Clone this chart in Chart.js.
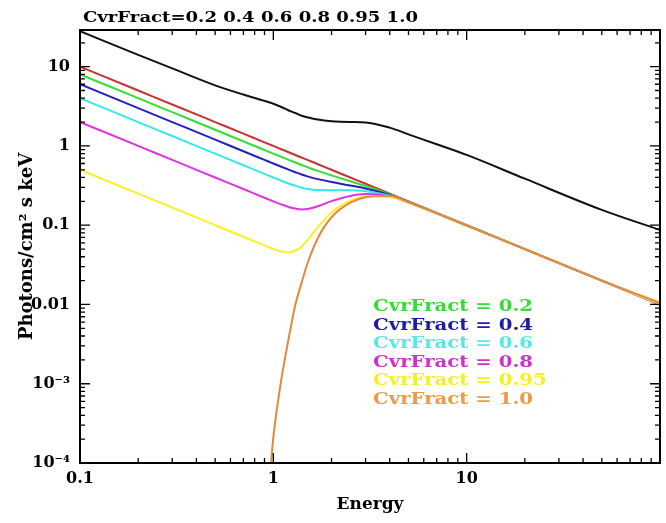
<!DOCTYPE html>
<html>
<head>
<meta charset="utf-8">
<script src="https://cdn.jsdelivr.net/npm/chart.js@4.4.0/dist/chart.umd.min.js"></script>
<style>
  html, body { margin: 0; padding: 0; background: #fff; }
  #wrap { width: 666px; height: 523px; }
</style>
</head>
<body>
<div id="wrap"><canvas id="chart"></canvas></div>
<script>
// energies (keV) shared by every curve
const energy = [0.1, 0.2, 0.3, 0.5, 0.7, 0.9, 0.95, 1.0, 1.1, 1.2, 1.3, 1.4, 1.5, 1.7, 2.0, 2.5, 3.0, 4.0, 5.0, 7.0, 10, 20, 50, 100];

// photons/cm^2 s keV
const fluxBlack  = [28, 14.1, 9.5, 5.8, 4.45, 3.7, 3.55, 3.4, 3.1, 2.8, 2.6, 2.4, 2.3, 2.15, 2.05, 2.0, 1.98, 1.7, 1.4, 1.05, 0.77, 0.386, 0.156, 0.087];
const fluxRed    = [10, 5, 3.33, 2, 1.43, 1.11, 1.053, 1.0, 0.909, 0.833, 0.769, 0.714, 0.667, 0.588, 0.5, 0.4, 0.333, 0.25, 0.2, 0.143, 0.1, 0.05, 0.02, 0.01];
const fluxC02    = [8, 4, 2.667, 1.6, 1.143, 0.889, 0.842, 0.8, 0.728, 0.667, 0.617, 0.575, 0.54, 0.484, 0.425, 0.358, 0.312, 0.245, 0.198, 0.142, 0.0999, 0.05, 0.02, 0.01];
const fluxC04    = [6, 3, 2, 1.2, 0.857, 0.667, 0.632, 0.6, 0.546, 0.502, 0.466, 0.436, 0.413, 0.381, 0.35, 0.317, 0.29, 0.24, 0.197, 0.142, 0.0997, 0.05, 0.02, 0.01];
const fluxC06    = [4, 2, 1.333, 0.8, 0.571, 0.444, 0.421, 0.4, 0.364, 0.336, 0.314, 0.297, 0.286, 0.277, 0.276, 0.275, 0.268, 0.235, 0.195, 0.142, 0.0996, 0.05, 0.02, 0.01];
const fluxC08    = [2, 1, 0.667, 0.4, 0.286, 0.222, 0.2105, 0.2, 0.183, 0.17, 0.162, 0.158, 0.16, 0.173, 0.201, 0.234, 0.247, 0.23, 0.194, 0.141, 0.0994, 0.05, 0.02, 0.01];
const fluxC095   = [0.5, 0.25, 0.167, 0.1, 0.0714, 0.0556, 0.0526, 0.0502, 0.0465, 0.0452, 0.0479, 0.0535, 0.0644, 0.0947, 0.145, 0.202, 0.23, 0.226, 0.192, 0.141, 0.0993, 0.05, 0.02, 0.0101];
const fluxC10    = [null, null, null, null, null, 0.00001, 0.00005, 0.00021, 0.00113, 0.0037, 0.0099, 0.0187, 0.0326, 0.069, 0.126, 0.192, 0.225, 0.235, 0.195, 0.141, 0.099, 0.05, 0.02, 0.0105];

const coverFractions = ['0.2', '0.4', '0.6', '0.8', '0.95', '1.0'];
const xMajorTicks = [0.1, 1, 10];
const yMajorTicks = [1e-4, 1e-3, 0.01, 0.1, 1, 10];
const yMajorText = ['10\u207B\u2074', '10\u207B\u00B3', '0.01', '0.1', '1', '10'];

const lineColors = ['#cc3030', '#33dd33', '#2222c0', '#33e8e8', '#e033e0', '#ffee22', '#e08a3c'];
const textColors = ['#33dd33', '#1c1caa', '#55e8e8', '#cc33cc', '#f5f020', '#ee9944'];

const series = [fluxRed, fluxC02, fluxC04, fluxC06, fluxC08, fluxC095, fluxC10];
const pts = arr => energy.map((e, i) => ({ x: e, y: arr[i] }));

const datasets = series.map((s, i) => ({
  data: pts(s),
  borderColor: lineColors[i],
  borderWidth: 2,
  pointRadius: 0,
  cubicInterpolationMode: 'monotone',
  order: series.length - i
}));
datasets.push({
  data: pts(fluxBlack),
  borderColor: '#111',
  borderWidth: 2,
  pointRadius: 0,
  cubicInterpolationMode: 'monotone',
  order: 0
});

function logTicks(min, max) {
  const out = [];
  for (let p = -5; p <= 3; p++) {
    for (let m = 1; m <= 9; m++) {
      const v = +(m * Math.pow(10, p)).toPrecision(3);
      if (v >= min * 0.999 && v <= max * 1.001) out.push({ value: v });
    }
  }
  return out;
}
const isMajor = v => Math.abs(Math.log10(v) - Math.round(Math.log10(v))) < 1e-6;

const SERIF = '"DejaVu Serif", "Liberation Serif", serif';

// draw text squeezed/stretched horizontally by factor k
function wideText(ctx, text, x, y, k) {
  ctx.save();
  ctx.translate(x, y);
  ctx.scale(k, 1);
  ctx.fillText(text, 0, 0);
  ctx.restore();
}

const frame = {
  id: 'frame',
  afterDraw(chart) {
    const { ctx, chartArea: a, scales: { x, y } } = chart;
    ctx.save();
    ctx.strokeStyle = '#000';
    ctx.lineWidth = 2;
    ctx.strokeRect(a.left, a.top, a.right - a.left, a.bottom - a.top);
    ctx.lineWidth = 1.3;
    ctx.beginPath();
    x.ticks.forEach(t => {
      const px = x.getPixelForValue(t.value);
      const len = isMajor(t.value) ? 10 : 5;
      ctx.moveTo(px, a.bottom); ctx.lineTo(px, a.bottom - len);
      ctx.moveTo(px, a.top); ctx.lineTo(px, a.top + len);
    });
    y.ticks.forEach(t => {
      const py = y.getPixelForValue(t.value);
      const len = isMajor(t.value) ? 10 : 5;
      ctx.moveTo(a.left, py); ctx.lineTo(a.left + len, py);
      ctx.moveTo(a.right, py); ctx.lineTo(a.right - len, py);
    });
    ctx.stroke();

    // heading above the frame
    ctx.fillStyle = '#000';
    ctx.textBaseline = 'alphabetic';
    ctx.font = 'bold 15px ' + SERIF;
    const head = 'CvrFract=' + coverFractions.join(' ');
    wideText(ctx, head, a.left + 3, 22, 335 / ctx.measureText(head).width);

    // key inside the plot
    ctx.font = 'bold 17px ' + SERIF;
    const k = 160 / ctx.measureText('CvrFract = ' + coverFractions[0]).width;
    coverFractions.forEach((c, i) => {
      ctx.fillStyle = textColors[i];
      wideText(ctx, 'CvrFract = ' + c, 373, 311 + i * 18.5, k);
    });
    ctx.restore();
  }
};

new Chart(document.getElementById('chart'), {
  type: 'line',
  data: { datasets },
  options: {
    responsive: true,
    maintainAspectRatio: false,
    animation: false,
    events: [],
    layout: { padding: { top: 30, right: 4, left: 0, bottom: 0 } },
    plugins: { legend: { display: false }, tooltip: { enabled: false } },
    scales: {
      x: {
        type: 'logarithmic',
        min: 0.1,
        max: 100,
        afterBuildTicks: s => { s.ticks = logTicks(0.1, 100); },
        afterFit: s => { s.height = 60; },
        grid: { display: false, drawTicks: false },
        border: { display: false },
        ticks: {
          autoSkip: false,
          maxRotation: 0,
          padding: 6,
          color: '#000',
          font: { family: SERIF, size: 16, weight: 'bold' },
          callback: v => xMajorTicks.includes(+v) ? String(+v) : ''
        },
        title: {
          display: true,
          text: 'Energy',
          color: '#000',
          padding: { top: 0, bottom: 8 },
          font: { family: SERIF, size: 17, weight: 'bold' }
        }
      },
      y: {
        type: 'logarithmic',
        min: 1e-4,
        max: 29,
        afterBuildTicks: s => { s.ticks = logTicks(1e-4, 29); },
        afterFit: s => { s.width = 80; },
        grid: { display: false, drawTicks: false },
        border: { display: false },
        ticks: {
          autoSkip: false,
          padding: 10,
          color: '#000',
          font: { family: SERIF, size: 16, weight: 'bold' },
          callback: v => {
            const k = yMajorTicks.findIndex(m => Math.abs(m - v) / m < 1e-6);
            return k >= 0 ? yMajorText[k] : '';
          }
        },
        title: {
          display: true,
          text: 'Photons/cm\u00B2 s keV',
          color: '#000',
          padding: { top: 17, bottom: 0 },
          font: { family: SERIF, size: 18, weight: 'bold' }
        }
      }
    }
  },
  plugins: [frame]
});
</script>
</body>
</html>
